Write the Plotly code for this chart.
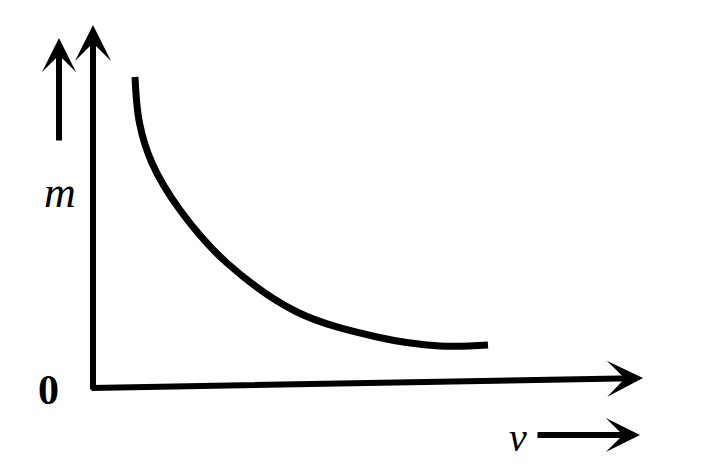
import plotly.graph_objects as go

# m versus v sketch (arbitrary units)
v_values = [0.84, 0.93, 1.18, 1.74, 2.68, 4.08, 5.68, 6.94, 7.90]
m_values = [6.22, 5.30, 4.50, 3.56, 2.50, 1.52, 1.02, 0.84, 0.86]

x_label = "v"
y_label = "m"
origin_label = "0"

fig = go.Figure()
fig.add_trace(go.Scatter(
    x=v_values, y=m_values, mode="lines",
    line=dict(color="black", width=7, shape="spline", smoothing=1.0),
    hoverinfo="skip", showlegend=False,
))

def arrow(x0, y0, x1, y1, width=6, size=1.0):
    fig.add_annotation(
        x=x1, y=y1, ax=x0, ay=y0, xref="x", yref="y", axref="x", ayref="y",
        text="", showarrow=True, arrowhead=3, arrowsize=size,
        arrowwidth=width, arrowcolor="black", standoff=0,
    )

# axes
arrow(0, -0.06, 0, 7.26, width=6, size=1.0)
arrow(-0.06, 0.0, 11.0, 0.2, width=6, size=1.0)
# direction arrows beside labels
arrow(-0.68, 4.92, -0.68, 7.0, width=6, size=0.95)
arrow(8.86, -0.94, 10.94, -0.94, width=6, size=0.95)

fig.add_annotation(x=-0.66, y=3.92, xref="x", yref="y", text="<i>" + y_label + "</i>",
                   showarrow=False, font=dict(family="Liberation Serif", size=44, color="black"))
fig.add_annotation(x=-0.9, y=-0.04, xref="x", yref="y", text="<b>" + origin_label + "</b>",
                   showarrow=False, font=dict(family="Liberation Serif", size=42, color="black"))
fig.add_annotation(x=8.5, y=-0.98, xref="x", yref="y", text="<i>" + x_label + "</i>",
                   showarrow=False, font=dict(family="Liberation Serif", size=40, color="black"))

fig.update_layout(
    width=710, height=466,
    margin=dict(l=0, r=0, t=0, b=0),
    paper_bgcolor="white", plot_bgcolor="white",
    xaxis=dict(range=[-1.70, 12.5], visible=False, fixedrange=True),
    yaxis=dict(range=[-1.72, 7.60], visible=False, fixedrange=True),
)

fig.write_html("out.html")
